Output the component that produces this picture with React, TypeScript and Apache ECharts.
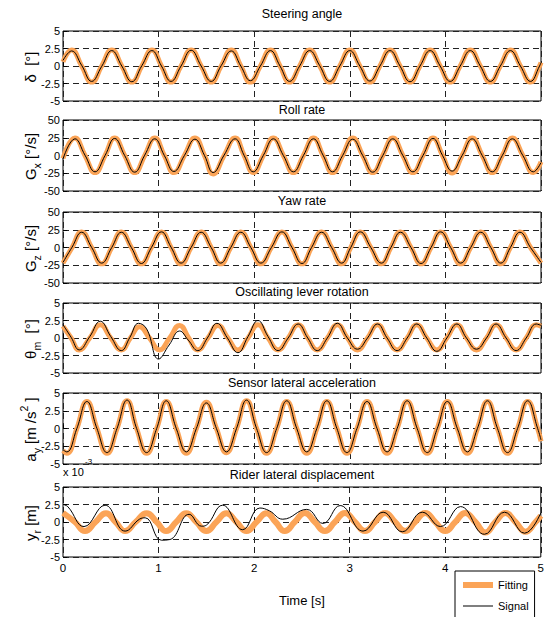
import React, { useEffect, useRef } from 'react';
import * as echarts from 'echarts';

const FONT = '"Liberation Sans", Arial, Helvetica, sans-serif';
const ORANGE = '#FBA457';

// ---------- Data ----------
const xTicks = [0, 1, 2, 3, 4, 5];

// Panel 1: Steering angle
const steerT = [0, 0.09, 0.195, 0.30, 0.405, 0.51, 0.615, 0.72, 0.825, 0.93, 1.03, 1.13, 1.235, 1.34, 1.445, 1.55, 1.655, 1.76, 1.86, 1.96, 2.065, 2.17, 2.27, 2.37, 2.475, 2.58, 2.685, 2.79, 2.895, 3.0, 3.105, 3.21, 3.315, 3.42, 3.525, 3.63, 3.735, 3.84, 3.945, 4.05, 4.155, 4.26, 4.365, 4.47, 4.575, 4.68, 4.785, 4.89, 4.985, 5.0];
const steerFit = [0.6, 2.3, 0, -2.3, 0, 2.3, 0, -2.3, 0, 2.3, 0, -2.3, 0, 2.3, 0, -2.3, 0, 2.3, 0, -2.3, 0, 2.3, 0, -2.3, 0, 2.3, 0, -2.3, 0, 2.3, 0, -2.3, 0, 2.3, 0, -2.3, 0, 2.3, 0, -2.3, 0, 2.3, 0, -2.3, 0, 2.3, 0, -2.3, 0, 0.5];
const steerSig = [0.8, 2.15, 0.1, -2.2, -0.05, 2.2, 0, -2.25, 0.05, 2.2, 0, -2.2, 0, 2.25, 0, -2.2, 0.05, 2.15, 0, -2.1, 0, 2.2, 0, -2.2, 0, 2.2, 0.05, -2.2, 0, 2.2, 0, -2.15, 0, 2.2, 0, -2.25, 0, 2.2, 0, -2.2, 0, 2.2, 0, -2.2, 0, 2.2, 0, -2.2, 0, 0.5];

// Panel 2: Roll rate
const rollT = [0, 0.125, 0.23, 0.335, 0.44, 0.54, 0.645, 0.75, 0.855, 0.96, 1.06, 1.16, 1.27, 1.38, 1.48, 1.57, 1.685, 1.80, 1.895, 1.99, 2.095, 2.20, 2.305, 2.41, 2.515, 2.62, 2.72, 2.82, 2.925, 3.03, 3.135, 3.24, 3.345, 3.45, 3.555, 3.66, 3.765, 3.87, 3.97, 4.07, 4.175, 4.28, 4.385, 4.49, 4.595, 4.70, 4.81, 4.92, 5.0];
const rollFit = [-4, 24.5, 0, -24, 0, 24.5, 0, -24, 0, 24.5, 0, -24, 0, 24.5, 0, -26, 0, 24.5, 0, -24, 0, 24.5, 0, -24, 0, 24.5, 0, -24, 0, 24.5, 0, -24, 0, 24.5, 0, -24, 0, 24.5, 0, -24.5, 0, 24.5, 0, -24, 0, 24.5, 0, -24, -9];
const rollSig = [-5, 23.5, 0.5, -23, 0, 24, 0, -23.5, 0.5, 23.5, 0, -22.5, 0, 23, 0, -24, 0.5, 23.5, 0, -23, 0, 23.5, 0, -23, 0, 23.5, 0.5, -23, 0, 23, 0, -23.5, 0, 23.5, 0, -23, 0, 24, 0, -22, 0, 23.5, 0, -23, 0, 23.5, 0, -23, -10];

// Panel 3: Yaw rate
const yawT = [0, 0.095, 0.195, 0.30, 0.405, 0.51, 0.61, 0.715, 0.82, 0.925, 1.03, 1.13, 1.235, 1.34, 1.445, 1.55, 1.65, 1.755, 1.86, 1.965, 2.07, 2.18, 2.29, 2.395, 2.50, 2.60, 2.705, 2.81, 2.915, 3.01, 3.11, 3.22, 3.33, 3.43, 3.53, 3.64, 3.745, 3.85, 3.95, 4.055, 4.16, 4.265, 4.37, 4.475, 4.58, 4.68, 4.78, 4.89, 5.0];
const yawFit = [-22, 0, 22, 0, -23, 0, 22, 0, -23, 0, 22, 0, -23, 0, 22, 0, -23, 0, 22, 0, -23, 0, 22, 0, -23, 0, 22, 0, -23, 0, 22, 0, -23, 0, 22, 0, -23, 0, 22, 0, -23, 0, 22, 0, -23, 0, 22, 0, -22];
const yawSig = [-21, 0.5, 21.5, 0, -22, 0, 21.5, 0, -22.5, 0, 22, 0.5, -22, 0, 21.5, 0, -22, 0, 21.5, 0, -22, 0, 22, 0, -22.5, 0, 21.5, 0, -22, 0, 22, 0, -22, 0, 21.5, 0, -22.5, 0, 22, 0, -22, 0, 21.5, 0, -22, 0, 21.5, 0, -21];

// Panel 4: Oscillating lever rotation
const leverT = [0, 0.085, 0.17, 0.28, 0.39, 0.50, 0.61, 0.705, 0.80, 0.905, 1.01, 1.115, 1.22, 1.315, 1.41, 1.515, 1.62, 1.725, 1.83, 1.935, 2.04, 2.145, 2.25, 2.355, 2.46, 2.56, 2.66, 2.765, 2.87, 2.975, 3.08, 3.185, 3.29, 3.39, 3.495, 3.60, 3.70, 3.805, 3.91, 4.015, 4.12, 4.22, 4.325, 4.43, 4.53, 4.635, 4.74, 4.845, 4.95, 5.0];
const leverFit = [1.7, 0, -1.7, 0, 1.9, 0, -1.7, 0, 1.6, 0, -1.7, 0, 1.8, 0, -1.7, 0, 1.8, 0, -1.7, 0, 1.9, 0, -1.7, 0, 1.9, 0, -1.7, 0, 1.9, 0, -1.7, 0, 1.9, 0, -1.7, 0, 1.9, 0, -1.7, 0, 1.9, 0, -1.7, 0, 1.9, 0, -1.7, 0, 1.9, 1.7];
const leverSigT = [0, 0.085, 0.17, 0.28, 0.39, 0.50, 0.61, 0.70, 0.79, 0.875, 1.0, 1.11, 1.22, 1.31, 1.41, 1.51, 1.61, 1.72, 1.83, 1.935, 2.04, 2.145, 2.25, 2.355, 2.46, 2.56, 2.66, 2.765, 2.87, 2.975, 3.08, 3.185, 3.29, 3.39, 3.495, 3.60, 3.70, 3.805, 3.91, 4.015, 4.12, 4.22, 4.325, 4.43, 4.53, 4.635, 4.74, 4.845, 4.95, 5.0];
const leverSig = [1.9, 0.1, -1.7, 0.2, 2.4, 0.2, -1.8, 0.1, 2.1, 1.3, -3.0, -1.0, 1.0, -0.3, -1.8, 0, 2.1, 0, -2.1, 0.2, 2.5, 0.2, -1.8, 0, 2.0, 0, -1.8, 0, 2.1, 0, -1.6, 0, 2.0, 0, -1.8, 0, 2.0, 0, -1.9, 0, 2.0, 0, -1.6, 0, 2.0, 0, -1.8, 0, 2.0, 1.8];

// Panel 5: Sensor lateral acceleration
const accT = [0, 0.04, 0.145, 0.25, 0.355, 0.46, 0.565, 0.67, 0.77, 0.875, 0.98, 1.08, 1.185, 1.29, 1.395, 1.50, 1.605, 1.71, 1.815, 1.92, 2.025, 2.13, 2.235, 2.34, 2.445, 2.55, 2.655, 2.76, 2.865, 2.97, 3.075, 3.18, 3.285, 3.39, 3.495, 3.60, 3.705, 3.81, 3.915, 4.02, 4.125, 4.23, 4.335, 4.44, 4.545, 4.65, 4.755, 4.86, 4.965, 5.0];
const accFit = [-3.1, -3.5, 0, 3.8, 0, -3.5, 0, 3.9, 0, -3.5, 0, 3.8, 0, -3.5, 0, 3.7, 0, -3.4, 0, 3.9, 0, -3.5, 0, 3.8, 0, -3.5, 0, 3.8, 0, -3.5, 0, 3.8, 0, -3.5, 0, 3.8, 0, -3.5, 0, 3.8, 0, -3.5, 0, 3.8, 0, -3.5, 0, 3.8, 0, -1.8];
const accSig = [-3.0, -3.3, 0, 3.8, 0, -3.4, 0, 4.0, 0, -3.4, 0, 3.9, 0, -3.3, 0, 3.6, 0, -3.3, 0, 4.0, 0, -3.4, 0, 3.9, 0, -3.3, 0, 3.9, 0, -3.4, 0, 3.8, 0, -3.3, 0, 3.9, 0, -3.4, 0, 3.8, 0, -3.3, 0, 3.9, 0, -3.4, 0, 3.9, 0, -1.6];

// Panel 6: Rider lateral displacement (x 10^-3)
const riderT = [0, 0.125, 0.23, 0.34, 0.45, 0.55, 0.65, 0.76, 0.875, 0.98, 1.08, 1.185, 1.29, 1.395, 1.50, 1.605, 1.71, 1.815, 1.92, 2.025, 2.13, 2.225, 2.32, 2.425, 2.53, 2.635, 2.74, 2.845, 2.95, 3.055, 3.16, 3.265, 3.37, 3.475, 3.58, 3.685, 3.79, 3.895, 4.00, 4.105, 4.21, 4.315, 4.42, 4.525, 4.63, 4.735, 4.84, 4.945, 5.0];
const riderFit = [1.3, 0, -1.3, 0, 1.25, 0, -1.3, 0, 1.25, 0, -1.3, 0, 1.25, 0, -1.3, 0, 1.25, 0, -1.3, 0, 1.25, 0, -1.3, 0, 1.3, 0, -1.3, 0, 1.3, 0, -1.3, 0, 1.3, 0, -1.3, 0, 1.3, 0, -1.3, 0, 1.3, 0, -1.5, 0, 1.3, 0, -1.4, 0, 0.9];
const riderSigT = [0, 0.05, 0.22, 0.44, 0.65, 0.8, 0.86, 1.03, 1.12, 1.32, 1.45, 1.5, 1.67, 1.88, 2.06, 2.16, 2.3, 2.55, 2.72, 2.9, 3.14, 3.35, 3.55, 3.76, 3.95, 4.16, 4.41, 4.62, 4.83, 5.0];
const riderSig = [2.5, 2.2, -0.65, 2.4, -1.3, 0.4, 0.6, -2.6, -2.5, 1.1, -0.6, -0.45, 2.4, -1.1, 2.0, 1.6, 0.4, 1.8, -0.2, 2.35, -1.3, 1.4, -1.4, 1.4, -0.65, 2.2, -1.75, 1.4, -1.6, 1.3];

const titles = ['Steering angle', 'Roll rate', 'Yaw rate', 'Oscillating lever rotation', 'Sensor lateral acceleration', 'Rider lateral displacement'];
const yNames = ['δ  [°]', 'G{sub|x} [°/s]', 'G{sub|z} [°/s]', 'θ{sub|m}  [°]', 'a{sub|y} [m /s{sup|2} ]', 'y{sub|r} [m]'];
const yLimits = [5, 50, 50, 5, 5, 5];
const yIntervals = [2.5, 25, 25, 2.5, 2.5, 2.5];

const pairs = (t: number[], v: number[]) => t.map((x, i) => [x, v[i]]);

const fitData = [
  pairs(steerT, steerFit),
  pairs(rollT, rollFit),
  pairs(yawT, yawFit),
  pairs(leverT, leverFit),
  pairs(accT, accFit),
  pairs(riderT, riderFit),
];
const sigData = [
  pairs(steerT, steerSig),
  pairs(rollT, rollSig),
  pairs(yawT, yawSig),
  pairs(leverSigT, leverSig),
  pairs(accT, accSig),
  pairs(riderSigT, riderSig),
];

// ---------- Layout ----------
const gridTops = [31, 120, 212, 303, 393, 487];
const gridHeights = [70, 71, 71, 70, 71, 70];
const titleCenters = [14, 110, 201, 292, 383, 475];

const FIT_ICON = 'path://M0,0L0.01,0L0.01,0.01Z M0,4L30,4L30,10L0,10Z M29.99,14L30,14L30,13.99Z';
const SIG_ICON = 'path://M0,0L0.01,0L0.01,0.01Z M0,6.5L30,6.5L30,7.5L0,7.5Z M29.99,14L30,14L30,13.99Z';

export default function App() {
  const ref = useRef<HTMLDivElement>(null);

  useEffect(() => {
    if (!ref.current) return;
    const chart = echarts.init(ref.current, undefined, { renderer: 'svg' });
    const dashed = { type: [6, 4] as any, color: '#222', width: 1 };

    const option: any = {
      animation: false,
      backgroundColor: '#fff',
      textStyle: { fontFamily: FONT, color: '#000' },
      title: [
        ...titles.map((t, i) => ({
          text: t,
          left: 302,
          top: titleCenters[i] - 7,
          textAlign: 'center',
          padding: 0,
          textStyle: { fontSize: 12.5, fontWeight: 'normal', color: '#000', fontFamily: FONT },
        })),
        {
          text: 'x 10',
          left: 63,
          top: 466,
          padding: 0,
          textStyle: { fontSize: 11, fontWeight: 'normal', color: '#000', fontFamily: FONT },
        },
        {
          text: '-3',
          left: 85,
          top: 457,
          padding: 0,
          textStyle: { fontSize: 8, fontWeight: 'normal', color: '#000', fontFamily: FONT },
        },
      ],
      graphic: yNames.map((n, i) => ({
        type: 'text',
        x: 30,
        y: gridTops[i] + gridHeights[i] / 2 + 1,
        rotation: Math.PI / 2,
        silent: true,
        style: {
          text: n,
          fontSize: 15,
          lineHeight: 24,
          fontFamily: FONT,
          fill: '#000',
          align: 'center',
          verticalAlign: 'middle',
          rich: {
            sub: { fontSize: 10.5, lineHeight: 14, verticalAlign: 'bottom', fill: '#000', fontFamily: FONT },
            sup: { fontSize: 10.5, lineHeight: 4, verticalAlign: 'top', fill: '#000', fontFamily: FONT },
          },
        },
      })),
      legend: {
        data: [
          { name: 'Fitting', icon: FIT_ICON, itemStyle: { color: ORANGE, borderWidth: 0 } },
          { name: 'Signal', icon: SIG_ICON, itemStyle: { color: '#000', borderWidth: 0 } },
        ],
        orient: 'vertical',
        left: 455,
        top: 571,
        height: 80,
        padding: [7, 6, 8, 8],
        itemGap: 7,
        itemWidth: 30,
        itemHeight: 14,
        itemTextGap: 6,
        backgroundColor: '#fff',
        borderColor: '#000',
        borderWidth: 1,
        borderRadius: 0,
        selectedMode: false,
        textStyle: { fontSize: 11, color: '#000', fontFamily: FONT },
      },
      grid: gridTops.map((top, i) => ({
        left: 63,
        width: 478,
        top,
        height: gridHeights[i],
        show: true,
        borderColor: '#000',
        borderWidth: 1,
        backgroundColor: 'transparent',
      })),
      xAxis: gridTops.map((_, i) => ({
        type: 'value',
        gridIndex: i,
        min: xTicks[0],
        max: xTicks[xTicks.length - 1],
        interval: 1,
        axisLine: { show: false },
        axisTick: { show: true, inside: true, length: 4, lineStyle: { color: '#000' } },
        axisLabel: { show: i === 5, margin: 5, fontSize: 11.5, color: '#000', fontFamily: FONT },
        splitLine: { show: true, lineStyle: dashed },
        name: i === 5 ? 'Time [s]' : '',
        nameLocation: 'middle',
        nameGap: 37,
        nameTextStyle: { fontSize: 13, color: '#000', fontFamily: FONT },
      })),
      yAxis: gridTops.map((_, i) => ({
        type: 'value',
        gridIndex: i,
        min: -yLimits[i],
        max: yLimits[i],
        interval: yIntervals[i],
        axisLine: { show: false },
        axisTick: { show: true, inside: true, length: 4, lineStyle: { color: '#000' } },
        axisLabel: { margin: 3, fontSize: 11, color: '#000', fontFamily: FONT },
        splitLine: { show: true, lineStyle: dashed },
      })),
      series: [
        ...fitData.map((d, i) => ({
          type: 'line',
          name: 'Fitting',
          xAxisIndex: i,
          yAxisIndex: i,
          data: d,
          smooth: 0.5,
          symbol: 'none',
          lineStyle: { color: ORANGE, width: i === 5 ? 6 : 5 },
          itemStyle: { color: ORANGE },
          z: 2,
        })),
        ...sigData.map((d, i) => ({
          type: 'line',
          name: 'Signal',
          xAxisIndex: i,
          yAxisIndex: i,
          data: d,
          smooth: 0.45,
          symbol: 'none',
          lineStyle: { color: '#000', width: 1 },
          itemStyle: { color: '#000' },
          z: 3,
        })),
      ],
    };

    chart.setOption(option);
    return () => chart.dispose();
  }, []);

  return (
    <div
      ref={ref}
      style={{ position: 'absolute', left: 0, top: 0, width: 547, height: 617, background: '#fff' }}
    />
  );
}
